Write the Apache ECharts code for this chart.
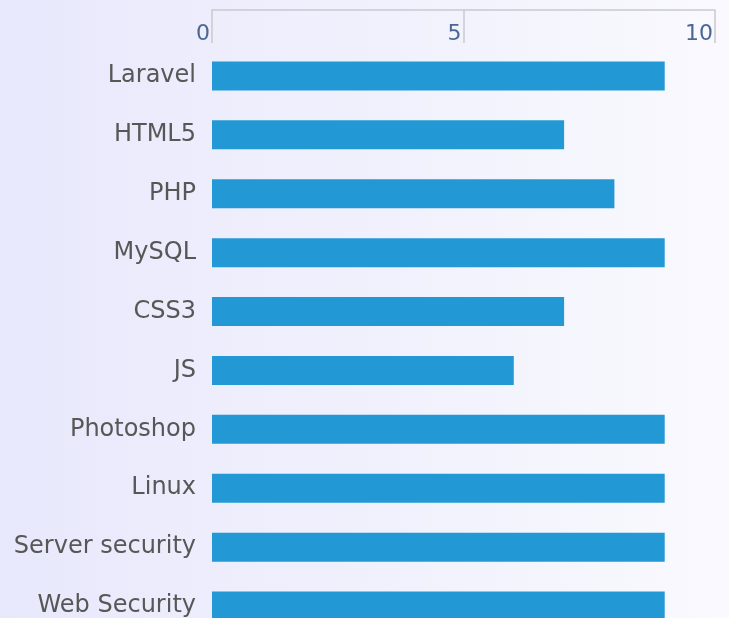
<!DOCTYPE html>
<html>
<head>
<meta charset="utf-8">
<script src="https://cdn.jsdelivr.net/npm/echarts@6/dist/echarts.min.js"></script>
<style>
  html, body { margin: 0; padding: 0; }
  #chart { width: 729px; height: 618px; }
</style>
</head>
<body>
<div id="chart"></div>
<script>
const categories = ['Laravel', 'HTML5', 'PHP', 'MySQL', 'CSS3', 'JS', 'Photoshop', 'Linux', 'Server security', 'Web Security'];
const skillValues = [9, 7, 8, 9, 7, 6, 9, 9, 9, 9];
const xTicks = [0, 5, 10];

const chart = echarts.init(document.getElementById('chart'), null, { renderer: 'canvas' });
chart.setOption({
  animation: false,
  backgroundColor: {
    type: 'linear', x: 0, y: 0, x2: 1, y2: 0,
    colorStops: [
      { offset: 0, color: '#e8e8fc' },
      { offset: 1, color: '#f9f9fe' }
    ]
  },
  grid: { left: 212, width: 503, top: 46.5, height: 589, containLabel: false, outerBoundsMode: 'none' },
  xAxis: {
    type: 'value',
    position: 'top',
    min: xTicks[0],
    max: xTicks[xTicks.length - 1],
    interval: xTicks[1] - xTicks[0],
    offset: 36.5,
    axisLine: { show: true, lineStyle: { color: '#c9c9cf', width: 1.5 } },
    axisTick: { show: true, inside: true, length: 33, lineStyle: { color: '#c9c9cf', width: 1.5 } },
    axisLabel: {
      inside: true,
      align: 'right',
      margin: 13,
      padding: [0, 2, 0, 0],
      color: '#4a6796',
      fontFamily: 'DejaVu Sans',
      fontSize: 22
    },
    splitLine: { show: false }
  },
  yAxis: {
    type: 'category',
    inverse: true,
    data: categories,
    axisLine: { show: false },
    axisTick: { show: false },
    axisLabel: {
      margin: 16,
      padding: [5, 0, 0, 0],
      color: '#575757',
      fontFamily: 'DejaVu Sans',
      fontSize: 24
    }
  },
  series: [{
    type: 'bar',
    data: skillValues,
    barWidth: 29,
    itemStyle: { color: '#2299d5' }
  }]
});
</script>
</body>
</html>
